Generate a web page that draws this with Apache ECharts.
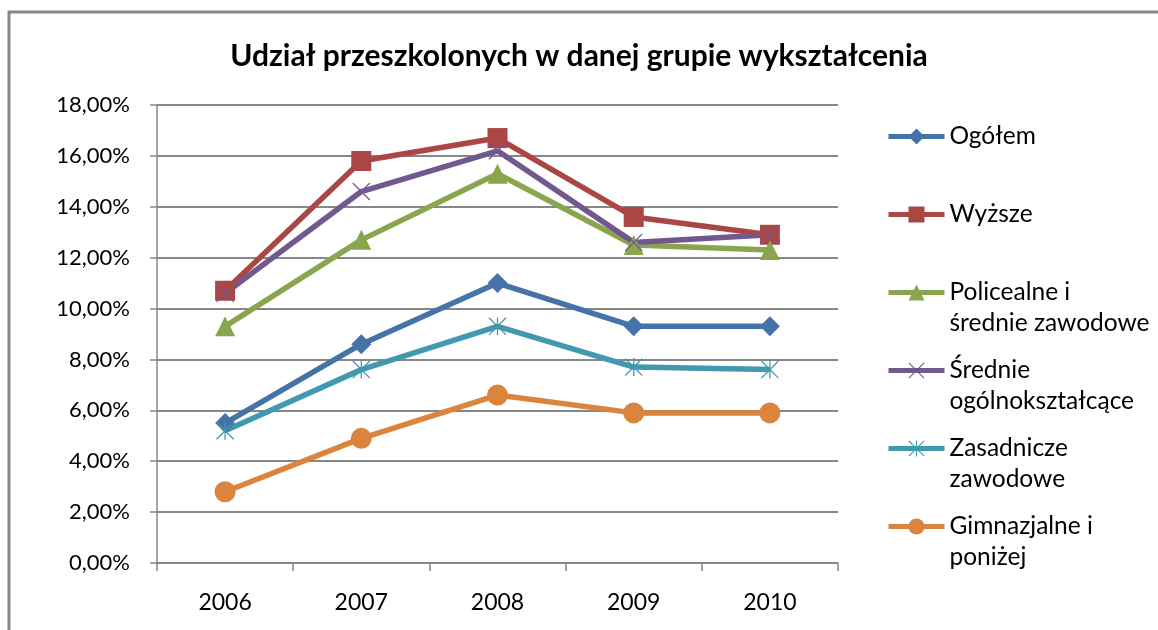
<!DOCTYPE html>
<html>
<head>
<meta charset="utf-8">
<script src="https://cdn.jsdelivr.net/npm/echarts@6/dist/echarts.min.js"></script>
<style>
  html, body { margin: 0; padding: 0; background: #fff; }
  #main { width: 1158px; height: 630px; }
</style>
</head>
<body>
<div id="main"></div>
<script>
// data (percent)
const years = ['2006', '2007', '2008', '2009', '2010'];
const ogolem = [5.5, 8.6, 11.0, 9.3, 9.3];
const wyzsze = [10.7, 15.8, 16.7, 13.6, 12.9];
const policealne = [9.3, 12.7, 15.3, 12.5, 12.3];
const srednieOgolne = [10.6, 14.6, 16.2, 12.6, 12.9];
const zasadnicze = [5.2, 7.6, 9.3, 7.7, 7.6];
const gimnazjalne = [2.8, 4.9, 6.6, 5.9, 5.9];

const seriesNames = ['Ogółem', 'Wyższe', 'Policealne i średnie zawodowe',
  'Średnie ogólnokształcące', 'Zasadnicze zawodowe', 'Gimnazjalne i poniżej'];
const legendLabels = ['Ogółem', 'Wyższe', 'Policealne i\nśrednie zawodowe',
  'Średnie\nogólnokształcące', 'Zasadnicze\nzawodowe', 'Gimnazjalne i\nponiżej'];

const FONT = 'Lato';
const LH = 31; // legend line height

// thin cross / asterisk markers like the Excel ones
const crossPath = 'path://M0,1L1,0L20,19L19,20ZM19,0L20,1L1,20L0,19Z';
const starPath = 'path://M0,1L1,0L20,19L19,20ZM19,0L20,1L1,20L0,19ZM9.3,0L10.7,0L10.7,20L9.3,20Z';

let chartDom = document.getElementById('main');
let myChart = echarts.init(chartDom);

function lineSeries(name, data, color, symbol, size) {
  return {
    name: name,
    type: 'line',
    data: data,
    symbol: symbol,
    symbolSize: size,
    showAllSymbol: true,
    lineStyle: { color: color, width: 5.5 },
    itemStyle: { color: color, borderWidth: 0 },
    emphasis: { disabled: true },
    animation: false
  };
}

// every legend label gets 3 lines so the icon sits on the first text line
function legendText(name) {
  const lbl = legendLabels[seriesNames.indexOf(name)];
  return lbl.indexOf('\n') >= 0 ? ' \n' + lbl : ' \n' + lbl + '\n ';
}

let option = {
  backgroundColor: '#fff',
  textStyle: { fontFamily: FONT },
  title: {
    text: 'Udział przeszkolonych w danej grupie wykształcenia',
    left: 'center',
    top: 36,
    textStyle: { fontFamily: FONT, fontSize: 30, fontWeight: 'bold', color: '#000' }
  },
  graphic: [{
    type: 'rect',
    shape: { x: 9, y: 12, width: 1300, height: 800 },
    style: { fill: 'none', stroke: '#878787', lineWidth: 3 },
    silent: true
  }],
  legend: {
    orient: 'vertical',
    left: 886,
    top: 90,
    padding: 0,
    itemGap: -15,
    itemWidth: 56,
    itemHeight: 20,
    data: seriesNames,
    formatter: legendText,
    lineStyle: { width: 5 },
    textStyle: { fontFamily: FONT, fontSize: 24.5, color: '#000', lineHeight: LH }
  },
  grid: { left: 157, right: 320, top: 105, bottom: 67, containLabel: false },
  xAxis: {
    type: 'category',
    data: years,
    boundaryGap: true,
    axisLine: { lineStyle: { color: '#878787', width: 1.5 } },
    axisTick: { show: true, length: 8, lineStyle: { color: '#878787', width: 1.5 } },
    axisLabel: { fontFamily: FONT, fontSize: 23, color: '#000', margin: 28 }
  },
  yAxis: {
    type: 'value',
    min: 0,
    max: 18,
    interval: 2,
    axisLine: { show: true, lineStyle: { color: '#878787', width: 1.5 } },
    axisTick: { show: true, length: 7, lineStyle: { color: '#878787', width: 1.5 } },
    splitLine: { lineStyle: { color: '#878787', width: 2 } },
    axisLabel: {
      fontFamily: FONT, fontSize: 22, color: '#000', margin: 27,
      formatter: v => v.toFixed(2).replace('.', ',') + '%'
    }
  },
  series: [
    lineSeries(seriesNames[0], ogolem, '#4572A7', 'diamond', 20),
    lineSeries(seriesNames[1], wyzsze, '#AA4643', 'rect', 20),
    lineSeries(seriesNames[2], policealne, '#89A54E', 'triangle', 20),
    lineSeries(seriesNames[3], srednieOgolne, '#71588F', crossPath, 18),
    lineSeries(seriesNames[4], zasadnicze, '#4198AF', starPath, 18),
    lineSeries(seriesNames[5], gimnazjalne, '#DB843D', 'circle', 21)
  ]
};

myChart.setOption(option);
</script>
</body>
</html>
